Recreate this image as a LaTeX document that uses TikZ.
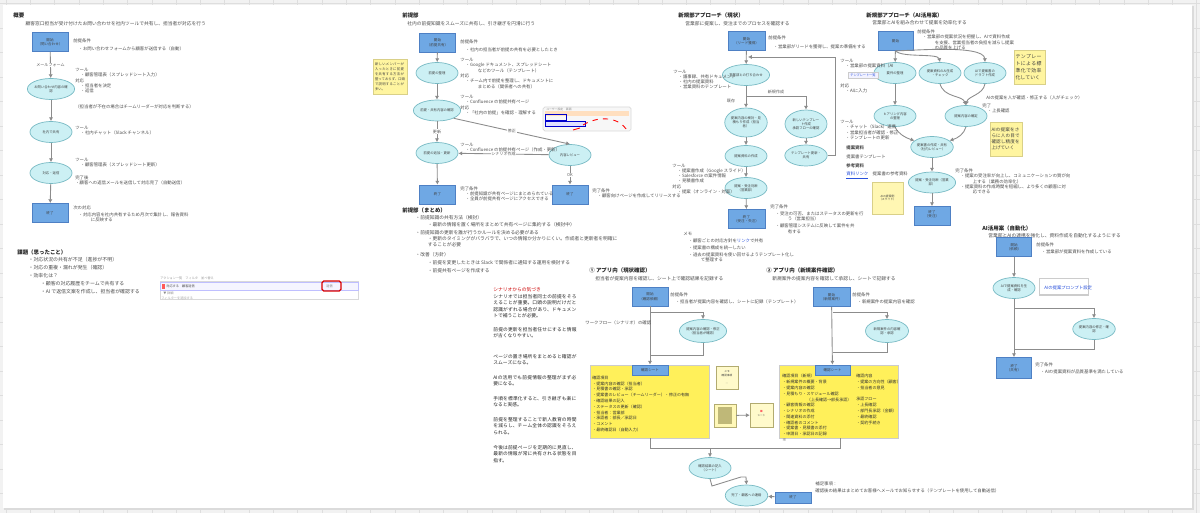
\documentclass[tikz,border=0pt]{standalone}
\usepackage{fontspec}
\setmainfont{Noto Sans CJK JP}
\XeTeXlinebreaklocale "ja"
\XeTeXlinebreakskip=0pt plus 1pt
\usetikzlibrary{arrows.meta,calc,positioning,shapes.geometric}
\definecolor{termfill}{RGB}{111,168,228}
\definecolor{termline}{RGB}{78,128,196}
\definecolor{procfill}{RGB}{204,240,244}
\definecolor{procline}{RGB}{120,186,196}
\definecolor{notefill}{RGB}{255,245,160}
\definecolor{sheetfill}{RGB}{255,240,90}
\definecolor{linkblue}{RGB}{40,80,220}
\definecolor{gridline}{RGB}{222,222,222}
\newcommand{\bul}{\hspace*{3pt}・}
\newcommand{\bulb}{\hspace*{10pt}・}
\newcommand{\ind}{\hspace*{10pt}}

\begin{document}
\begin{tikzpicture}[
  x=0.02cm, y=-0.02cm,
  >={Latex[length=2.2pt,width=2.4pt]},
  flow/.style={draw=black!45, line width=0.5pt},
  term/.style={rectangle, draw=termline, fill=termfill, line width=0.4pt,
    minimum width=0.72cm, minimum height=0.38cm, inner sep=0pt,
    align=center, font=\fontsize{2.0}{2.5}\selectfont, text=black!75},
  proc/.style={ellipse, draw=procline, fill=procfill, line width=0.4pt,
    minimum width=0.84cm, minimum height=0.42cm, inner sep=0pt,
    align=center, font=\fontsize{1.9}{2.4}\selectfont, text=black!75},
  txt/.style={anchor=north west, inner sep=0pt, align=left,
    font=\fontsize{2.7}{3.6}\selectfont, text=black!70},
  dense/.style={txt, font=\fontsize{2.5}{3.0}\selectfont},
  ttl/.style={anchor=west, inner sep=0pt,
    font=\bfseries\fontsize{3.1}{3.6}\selectfont, text=black!85},
  lbl/.style={fill=white, inner sep=0.4pt,
    font=\fontsize{2.3}{2.8}\selectfont, text=black!65},
  note/.style={rectangle, fill=notefill, draw=notefill!85!black, line width=0.2pt,
    inner sep=1pt, align=left, font=\fontsize{2.5}{3.3}\selectfont, text=black!75},
  sheet/.style={rectangle, fill=sheetfill, draw=black!20, line width=0.4pt,
    minimum width=2.38cm, minimum height=1.46cm, inner sep=0pt}
]
  % page and grid
  \useasboundingbox (0,0) rectangle (1200,513);
  \fill[black!5] (0,0) rectangle (1200,513);
  \foreach \gx in {6,30.3,...,1200} \draw[gridline, line width=0.3pt] (\gx,0) -- (\gx,513);
  \foreach \gy in {3.5,28,...,513} \draw[gridline, line width=0.3pt] (0,\gy) -- (1200,\gy);
  \fill[black!14] (4,6.5) rectangle (1193.5,509.5);
  \fill[white] (3,5) rectangle (1192,508);

  % --- 概要 ---
  \node[ttl] (sumTtl) at (13,15) {概要};
  \node[txt] (sumSub) at (20,21) {\hspace*{3pt}顧客窓口担当が受け付けたお問い合わせを社内ツールで共有し、担当者が対応を行う};
  \node[term] (start1) at (50,42) {開始\\（問い合わせ）};
  \node[proc] (recv1) at (51,89) {お問い合わせ内容の確\\認};
  \node[proc] (share1) at (51,132) {社内で共有};
  \node[proc] (reply1) at (51,173) {対応・返信};
  \node[term] (end1) at (50,213) {終了};
  \draw[flow,->] (start1) -- node[lbl] {メールフォーム} (recv1);
  \draw[flow,->] (recv1) -- (share1);
  \draw[flow,->] (share1) -- (reply1);
  \draw[flow,->] (reply1) -- (end1);
  \node[dense] (pre1) at (73,38) {前提条件\\[2pt]\bul お問い合わせフォームから顧客が送信する（自動）};
  \node[dense] (tool1a) at (75,68) {ツール\\\bul 顧客管理表（スプレッドシート入力）\\対応\\\bul 担当者を決定\\\bul 返信};
  \node[dense] (memo1) at (75,104) {（担当者が不在の場合はチームリーダーが対応を判断する）};
  \node[dense] (tool1b) at (75,126) {ツール\\\bul 社内チャット（Slack チャンネル）};
  \node[dense] (tool1c) at (75,158) {ツール\\\bul 顧客管理表（スプレッドシート更新）};
  \node[dense] (after1) at (75,175) {完了後\\・顧客への返信メールを送信して対応完了（自動送信）};
  \node[dense] (next1) at (73,205) {次の対応\\[1pt]\bul 対応内容を社内共有するため月次で集計し、報告資料\\\ind に反映する};

  \node[ttl] (issueTtl) at (17,252) {課題（思ったこと）};
  \node[txt, font=\fontsize{2.8}{4.5}\selectfont] (issue1) at (23,257) {\bul 対応状況の共有が不足（進捗が不明）\\\bul 対応の重複・漏れが発生（確認）\\\bul 効率化は？\\\bulb 顧客の対応履歴をチームで共有する\\\bulb AI で返信文案を作成し、担当者が確認する};
  % screenshot
  \node[dense, font=\fontsize{1.8}{2}\selectfont, text=black!40] (shot1t) at (160,276.5) {アクション一覧　フィルタ　並べ替え};
  \draw[black!15, fill=white] (160,281) rectangle (358,299);
  \draw[blue!25, fill=blue!4] (160,282) rectangle (358,290);
  \fill[red!65] (161.5,283.5) rectangle (164.5,288.5);
  \node[dense, font=\fontsize{1.8}{2}\selectfont] (shot1a) at (166,284) {対応する　顧客返信};
  \node[dense, font=\fontsize{1.8}{2}\selectfont, text=black!45] (shot1b) at (163,291.5) {▼ 詳細};
  \node[dense, font=\fontsize{1.8}{2}\selectfont, text=black!35] (shot1c) at (161,296) {フィルターを追加する};
  \draw[red!85!black, line width=0.7pt, rounded corners=1pt] (322,281) rectangle (341,291);
  \node[dense, font=\fontsize{1.8}{2}\selectfont, text=black!50] (shot1d) at (326,284.5) {返信};

  % --- 前提部 ---
  \node[ttl] (preTtl) at (402,15) {前提部};
  \node[txt] (preSub) at (407,21) {社内の前提知識をスムーズに共有し、引き継ぎを円滑に行う};
  \node[term] (start2) at (437.5,42.5) {開始\\（前提共有）};
  \node[proc] (sort2) at (437,73) {前提の整理};
  \node[proc] (check2) at (437,110.5) {前提・共有内容の確認};
  \node[proc] (add2) at (437,153) {前提の追加・更新};
  \node[proc] (review2) at (570,155) {内容レビュー};
  \node[term] (end2a) at (437.5,194.5) {終了};
  \node[term] (end2b) at (570,194.5) {終了};
  \draw[flow,->] (start2) -- (sort2);
  \draw[flow,->] (sort2) -- (check2);
  \draw[flow,->] (check2) -- node[lbl] {更新} (add2);
  \draw[flow,->] (check2.-25) -- node[lbl] {修正} (review2.north);
  \draw[flow,->] (review2) -- node[lbl] {シナリオ作成} (add2);
  \draw[flow,->] (add2) -- (end2a);
  \draw[flow,->] (review2) -- node[lbl] {OK} (end2b);
  \node[note, minimum width=0.64cm, minimum height=0.7cm, text width=0.6cm,
    font=\fontsize{1.9}{2.9}\selectfont] (preNote) at (390,76.5)
    {新しいメンバーが入ったときに前提を共有する方法が整っておらず、口頭で説明することが多い。};
  \node[dense] (pre2) at (460,39) {前提条件\\[2pt]\bul 社内の担当者が前提の共有を必要としたとき};
  \node[dense] (tool2a) at (460,58) {ツール\\\bul Google ドキュメント、スプレッドシート\\\ind などのツール（テンプレート）\\対応\\\bul チーム内で前提を整理し、ドキュメントに\\\ind まとめる（関係者への共有）};
  \node[dense] (tool2b) at (460,95) {ツール\\\bul Confluence の前提共有ページ\\対応\\\bul 「社内の前提」を確認・理解する};
  \node[dense] (tool2c) at (460,143) {ツール\\\bul Confluence の前提共有ページ（作成・更新）};
  \node[dense] (done2a) at (460,186) {完了条件\\\bul 前提知識が共有ページにまとめられている\\\bul 全員が前提共有ページにアクセスできる};
  \node[dense] (done2b) at (592,188) {完了条件\\\bul 顧客向けページを作成してリリースする};
  % screenshot
  \draw[black!15, fill=black!3, rounded corners=1pt] (543,107) rectangle (631,131);
  \fill[orange!25] (545,111) rectangle (629,116);
  \node[dense, font=\fontsize{1.6}{2}\selectfont, text=black!45] (shot2t) at (546,107.8) {ユーザー設定　画面};
  \draw[blue!80!black, line width=0.5pt] (545,114) rectangle (566,120);
  \draw[blue!80!black, fill=blue!12, line width=0.5pt] (545,121) rectangle (585,126);
  \draw[red, line width=0.5pt, dashed] (583,125) .. controls (603,113) and (624,120) .. (628,133);
  \draw[red, line width=0.5pt] (573,130) -- (580,128);

  \node[ttl] (preSumTtl) at (402,210) {前提部（まとめ）};
  \node[txt] (preSum) at (410,215.5) {\bul 前提知識の共有方法（検討）\\
    \bulb 最新の情報を置く場所をまとめて共有ページに集約する（検討中）\\[1pt]
    \bul 前提知識の更新を誰が行うかルールを決める必要がある\\
    \bulb 更新のタイミングがバラバラで、いつの情報か分かりにくい。作成者と更新者を明確に\\
    \ind することが必要\\[2pt]
    \bul 改善（方針）\\[1pt]
    \bulb 前提を変更したときは Slack で関係者に通知する運用を検討する\\[1pt]
    \bulb 前提共有ページを作成する};

  \node[txt, text=red!80!black] (findTtl) at (493,287.5) {シナリオからの気づき};
  \begin{scope}[every node/.style={txt, text width=1.68cm, text=black!85}]
    \node (find1) at (493,294) {シナリオでは担当者同士の前提をそろえることが重要。口頭の説明だけだと認識がずれる場合があり、ドキュメントで補うことが必要。};
    \node (find2) at (493,327) {前提の更新を担当者任せにすると情報が古くなりやすい。};
    \node (find3) at (493,354) {ページの置き場所をまとめると確認がスムーズになる。};
    \node (find4) at (493,375) {AIの活用でも前提情報の整理がまず必要になる。};
    \node (find5) at (493,396) {手順を標準化すると、引き継ぎも楽になると実感。};
    \node (find6) at (493,417) {前提を整理することで新人教育の時間を減らし、チーム全体の認識をそろえられる。};
    \node (find7) at (493,445) {今後は前提ページを定期的に見直し、最新の情報が常に共有される状態を目指す。};
  \end{scope}

  % --- 新規部アプローチ（現状） ---
  \node[ttl] (newTtl) at (678,15) {新規部アプローチ（現状）};
  \node[txt] (newSub) at (685,21) {営業部に提案し、受注までのプロセスを確認する};
  \node[term, minimum width=0.74cm] (start3) at (746.5,41) {開始\\（リード獲得）};
  \node[proc] (meet3) at (746,75) {営業部との打ち合わせ};
  \node[proc, minimum height=0.58cm] (plan3) at (746,122.5) {提案内容の検討・見\\積もり作成（担当\\者）};
  \node[proc, minimum height=0.56cm] (tmpl3) at (806,124) {新しいテンプレー\\ト作成\\承認フローの確認};
  \node[proc] (doc3) at (746,156) {提案資料の作成};
  \node[proc] (upd3) at (806,155.5) {テンプレート更新・\\共有};
  \node[proc] (judge3) at (746,188) {提案・受注判断\\（営業部）};
  \node[term, minimum width=0.74cm] (end3) at (746.5,219) {終了\\（受注・失注）};
  \coordinate (fork3) at (746,96);
  \coordinate (loopTop) at (835,57);
  \coordinate (loopIn) at (748,57);
  \draw[flow,->] (start3) -- (meet3);
  \draw[flow,->] (meet3) -- (plan3);
  \draw[flow,->] (fork3) -| (tmpl3.north);
  \draw[flow,->] (plan3) -- (doc3);
  \draw[flow,->] (tmpl3) -- (upd3);
  \draw[flow,->] (doc3) -- (judge3);
  \draw[flow,->] (judge3) -- (end3);
  \draw[flow,->] (upd3.east) -| (loopTop) -- (loopIn);
  \node[lbl, fill=none] (newLbl3) at (776,91.5) {新規作成};
  \node[lbl, fill=none] (oldLbl3) at (731,101) {既存};
  \node[dense] (pre3) at (768,35.5) {前提条件\\[2pt]\bul 営業部がリードを獲得し、提案の準備をする};
  \node[dense] (tool3a) at (673,69.5) {ツール\\\bul 議事録、共有ドキュメント\\\bul 社内の提案資料\\\bul 営業資料のテンプレート};
  \node[dense] (tool3b) at (672,163.5) {ツール\\\bul 提案書作成（Google スライド）\\\bul Salesforce の案件情報\\\bul 見積書作成\\対応\\\bul 提案（オンライン・対面）};
  \node[dense] (done3) at (770,204.5) {完了条件\\[1pt]\bul 受注の可否、またはステータスの更新を行\\\ind う（営業担当）\\[1pt]\bul 顧客管理システムに反映して案件を共\\\ind 有する};
  \node[dense] (memo3) at (683,231.5) {メモ\\[1pt]\bul 顧客ごとの対応方針を{\color{linkblue}リンク}で共有\\[1pt]\bul 提案書の構成を統一したい\\[1pt]\bul 過去の提案資料を使い回せるようテンプレート化し\\\ind て整理する};

  % --- 新規部アプローチ（AI活用案） ---
  \node[ttl] (aiTtl) at (866,15) {新規部アプローチ（AI活用案）};
  \node[txt] (aiSub) at (872,20.5) {営業部とAIを組み合わせて提案を効率化する};
  \node[term, minimum width=0.7cm] (start4) at (895.5,41) {開始};
  \node[proc] (req4) at (895,73) {要件の整理};
  \node[proc] (gen4) at (940,73) {提案資料のAI生成\\・チェック};
  \node[proc] (draft4) at (985,73) {AIで提案書の\\ドラフト作成};
  \node[proc] (hear4) at (895,116) {ヒアリング内容\\の整理};
  \node[proc] (fix4) at (966,116) {提案内容の確定};
  \node[proc] (share4) at (932,147) {提案書の作成・共有\\（社内レビュー）};
  \node[proc] (judge4) at (932,182.5) {提案・受注判断（営業\\部）};
  \node[term, minimum width=0.72cm] (end4) at (932,216) {終了\\（受注）\\};
  \draw[flow,->] (start4) -- (req4);
  \draw[flow,->] (start4.south) .. controls (902,58) and (938,53) .. (gen4.north);
  \draw[flow,->] (start4.south) .. controls (908,51) and (984,44) .. (draft4.north);
  \draw[flow,->] (req4) -- (hear4);
  \draw[flow,->] (gen4.south) .. controls (944,98) and (962,95) .. (fix4.north);
  \draw[flow,->] (draft4.south) .. controls (983,95) and (968,96) .. (fix4.north);
  \draw[flow,->] (hear4.south) .. controls (898,134) and (906,138) .. (share4.160);
  \draw[flow,->] (fix4.south) .. controls (964,134) and (958,138) .. (share4.20);
  \draw[flow,->] (share4) -- (judge4);
  \draw[flow,->] (judge4) -- (end4);
  \node[dense] (pre4) at (917,29.5) {前提条件\\\bul 営業部の提案状況を把握し、AIで資料作成\\\ind を支援、営業担当者の負担を減らし提案\\\ind の品質を上げる};
  \node[dense] (tool4a) at (840,58.5) {ツール\\\bul 営業部の提案資料（AI};
  \draw[black!20, fill=blue!5] (848,72) rectangle (878,78);
  \node[dense, font=\fontsize{1.8}{2}\selectfont, text=linkblue] (link4a) at (850,73.5) {テンプレート一覧};
  \node[dense] (tool4b) at (840,83) {対応\\\bul AIに入力};
  \node[dense] (tool4c) at (840,120) {ツール\\\bul チャット（Slack）連携\\\bul 営業担当者が確認・修正\\\bul テンプレートの更新};
  \node[dense, font=\bfseries\fontsize{2.5}{3}\selectfont] (ref4a) at (846,145.5) {提案資料};
  \node[dense] (ref4b) at (846,154.5) {提案書テンプレート};
  \node[dense, font=\bfseries\fontsize{2.5}{3}\selectfont] (ref4c) at (846,163.5) {参考資料};
  \node[dense] (ref4d) at (846,171.5) {{\color{linkblue}\underline{資料リンク}}　提案書の参考資料};
  \node[dense] (chk4) at (986,95) {AIの提案を人が確認・修正する（人がチェック）};
  \node[dense] (ok4) at (982,103.5) {完了\\\bul 上長確認};
  \node[dense] (done4) at (955,168.5) {完了条件\\\bul 提案の受注率が向上し、コミュニケーションの質が向\\\ind 上する（業務の効率化）\\\bul 提案資料の作成時間を短縮し、より多くの顧客に対\\\ind 応できる};
  \node[note, minimum width=0.62cm, minimum height=0.68cm, text width=0.56cm,
    font=\fontsize{2.8}{3.9}\selectfont] (aiNote1) at (1029.5,67) {テンプレートによる標準化で効率化していく};
  \node[note, minimum width=0.64cm, minimum height=0.68cm, text width=0.58cm,
    font=\fontsize{2.6}{3.5}\selectfont] (aiNote2) at (1006,139) {AIの提案をさらに人の目で確認し精度を上げていく};
  \node[note, fill=notefill!80, minimum width=0.62cm, minimum height=0.64cm, align=center,
    font=\fontsize{1.6}{2.2}\selectfont] (aiNote3) at (887.5,198) {AIの提案例\\（スライド）};

  % --- AI活用案（自動化） ---
  \node[ttl] (autoTtl) at (982,228) {AI活用案（自動化）};
  \node[txt] (autoSub) at (988,233.5) {営業部とAIの連携を強化し、資料作成を自動化するようにする};
  \node[term, minimum width=0.7cm] (start6) at (1014,247) {開始\\（依頼）};
  \node[proc] (gen6) at (1014,288) {AIで提案資料を生\\成・確認};
  \node[proc] (fix6) at (1094,329) {提案内容の修正・確\\認};
  \node[term, minimum width=0.7cm, minimum height=0.42cm] (end6) at (1014,368) {終了\\（共有）};
  \coordinate (fork6) at (1014,308);
  \coordinate (join6) at (1014,349);
  \draw[flow,->] (start6) -- (gen6);
  \draw[flow,->] (gen6) -- (end6);
  \draw[flow,->] (fork6) -| (fix6.north);
  \draw[flow] (fix6.south) |- (join6);
  \draw[black!20, fill=white, line width=0.7pt] (1039.5,278.5) rectangle (1088.5,295);
  \node[dense, text=linkblue] (link6) at (1044,285) {AIの提案プロンプト設定};
  \node[dense] (pre6) at (1036,242.5) {前提条件\\[1pt]\bul 営業部が提案資料を作成している};
  \node[dense] (done6) at (1035,362.5) {完了条件\\[1pt]\bul AIの提案資料が品質基準を満たしている};

  % --- アプリ内確認 ---
  \node[ttl] (app1Ttl) at (589,270) {① アプリ内（現状確認）};
  \node[txt] (app1Sub) at (595,276) {担当者が提案内容を確認し、シート上で確認結果を記録する};
  \node[ttl] (app2Ttl) at (766,270) {② アプリ内（新規案件確認）};
  \node[txt] (app2Sub) at (772,276) {新規案件の提案内容を確認して承認し、シートで記録する};
  \node[term] (start5a) at (650,296.5) {開始\\（確認依頼）};
  \node[term, minimum width=0.74cm] (start5b) at (831.5,297) {開始\\（新規案件）};
  \node[proc, minimum width=0.86cm, minimum height=0.46cm] (check5a) at (703,331) {提案内容の確認・修正\\（担当者が確認）};
  \node[proc, minimum width=0.86cm, minimum height=0.46cm] (check5b) at (887,331) {新規案件の内容確\\認・承認};
  \node[sheet] (sheet5a) at (649.5,401.5) {};
  \node[sheet] (sheet5b) at (839,401.5) {};
  \node[term, minimum width=0.72cm, minimum height=0.2cm] (head5a) at (650,370) {確認シート};
  \node[term, minimum width=0.7cm, minimum height=0.2cm] (head5b) at (832.5,370) {確認シート};
  \coordinate (fork5a) at (650,312);
  \coordinate (join5a) at (650,355);
  \coordinate (fork5b) at (832.5,312);
  \coordinate (join5b) at (832.5,352);
  \draw[flow,->] (start5a) -- (head5a);
  \draw[flow,->] (fork5a) -| (check5a.north);
  \draw[flow] (check5a.south) |- (join5a);
  \draw[flow,->] (start5b) -- (head5b);
  \draw[flow,->] (fork5b) -| (check5b.north);
  \draw[flow] (check5b.south) |- (join5b);
  \node[dense] (pre5a) at (670,292.5) {前提条件\\[1pt]\bul 担当者が提案内容を確認し、シートに記録（テンプレート）};
  \node[dense] (pre5b) at (852,292.5) {前提条件\\[1pt]\bul 新規案件の提案内容を確認};
  \node[dense] (flow5) at (585,320.5) {ワークフロー（シナリオ）の確認};
  \node[dense, font=\fontsize{2.3}{3.3}\selectfont, text=black!80] (sheetTxt5a) at (592,375.5) {確認項目\\・提案内容の確認（担当者）\\・見積書の確認・承認\\・提案書のレビュー（チームリーダー）・修正の有無\\・確認結果の記入\\・ステータスの更新（確認）\\・担当者：営業部\\・承認者：部長／承認日\\・コメント\\・最終確認日（自動入力）};
  \node[dense, font=\fontsize{2.3}{3.3}\selectfont, text=black!80] (sheetTxt5b) at (782,374) {確認項目（新規）\\・新規案件の概要・背景\\・提案内容の確認\\・見積もり・スケジュール確認\\\hspace*{14pt}（上長確認→部長承認）\\・顧客情報の確認\\・シナリオの作成\\・関連資料の添付\\・確認者のコメント\\・提案書・見積書の添付\\・申請日・承認日の記録\\※};
  \node[dense, font=\fontsize{2.3}{3.3}\selectfont, text=black!80] (sheetTxt5c) at (856,374) {確認内容\\・提案の方向性（顧客）\\・担当者の意見\\\\承認フロー\\・上長確認\\・部門長承認（金額）\\・最終確認\\・契約手続き};
  % small notes between sheets
  \node[note, fill=notefill!55, draw=notefill!70!black, minimum width=0.44cm, minimum height=0.46cm,
    align=center, font=\fontsize{1.5}{2.2}\selectfont] (midNote1) at (727,377.5) {メモ\\確認事項\\\\―};
  \node[note, fill=notefill!75, draw=notefill!70!black, minimum width=0.44cm, minimum height=0.46cm] (midNote2) at (725,415.5) {};
  \fill[black!25!notefill] (718,407) rectangle (732,424);
  \node[note, fill=notefill!55, draw=notefill!70!black, minimum width=0.46cm, minimum height=0.48cm,
    align=center, font=\fontsize{1.5}{2.2}\selectfont] (midNote3) at (761.5,415) {\hfill{\color{red!60}■}\\シート\\};
  \draw[flow,->] (midNote2) -- (midNote3);
  % merge
  \coordinate (m5a) at (650,448);
  \coordinate (m5b) at (840,448);
  \coordinate (m5c) at (710,448);
  \node[proc] (res5) at (710,468) {確認結果の記入\\（シート）};
  \node[proc] (fin5) at (746.5,495.5) {完了・顧客への連絡};
  \node[term, minimum width=0.72cm, minimum height=0.22cm] (box5) at (793,497.5) {終了};
  \draw[flow] (sheet5a.south -| m5a) -- (m5a) -- (m5b) -- (sheet5b.south -| m5b);
  \draw[flow,->] (m5c) -- (res5);
  \draw[flow,->] (res5.south) -- (712,486) -- (741,477) -- (746,477) -- (fin5.north);
  \draw[flow,->] (box5) -- (fin5);
  \node[dense] (note5) at (815,481) {補足事項：\\[1pt]確認後の結果はまとめてお客様へメールでお知らせする（テンプレートを使用して自動送信）};
\end{tikzpicture}
\end{document}
